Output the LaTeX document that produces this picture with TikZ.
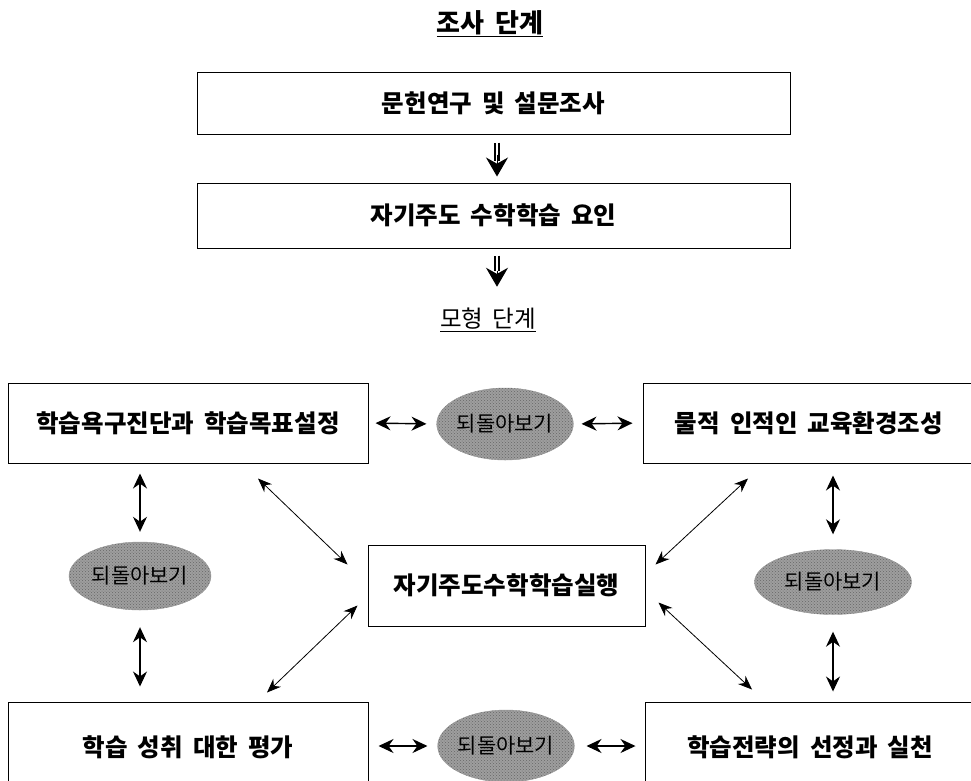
\documentclass[tikz,border=0pt]{standalone}
\usepackage{fontspec}
\setmainfont{Noto Sans CJK KR}[WordSpace=1.8]
\usetikzlibrary{shapes.geometric, arrows.meta, patterns, positioning}
\definecolor{speckle}{rgb}{0.62, 0.62, 0.62}

\begin{document}
\begin{tikzpicture}[>={Stealth[length=14pt,width=11pt]}, x=1pt, y=-1pt]
    \tikzstyle{stagebox}=[draw, line width=1pt, inner sep=0pt, font=\fontsize{24.5}{28}\selectfont\bfseries]
    \tikzstyle{lookback}=[ellipse, draw=gray!80, fill=speckle, inner sep=0pt, font=\fontsize{21}{24}\selectfont, postaction={pattern=crosshatch dots, pattern color=black!60}]
    \tikzstyle{flow}=[double, double distance=2.5pt, line width=1.6pt]
    \tikzstyle{flowhead}=[-{Stealth[length=19pt,width=22pt]}, line width=1pt]
    \tikzstyle{link}=[{Stealth[length=15pt,width=14pt]}-{Stealth[length=15pt,width=14pt]}, line width=1.4pt]
    \tikzstyle{diag}=[<->, line width=0.8pt]

    \useasboundingbox (0,0) rectangle (971,780);

    % Survey stage
    \node[font=\fontsize{26}{30}\selectfont\bfseries] (survey) at (490,24) {\underline{조사 단계}};
    \node[stagebox, minimum width=593pt, minimum height=62pt] (lit) at (493.5,103) {문헌연구 및 설문조사};
    \node[stagebox, minimum width=593pt, minimum height=65pt] (factor) at (493.5,215.5) {자기주도 수학학습 요인};
    \node[font=\fontsize{23.5}{27}\selectfont] (model) at (488,320) {\underline{모형 단계}};

    % Arrows between the survey boxes
    \draw[flow, shorten <=8pt, shorten >=22pt] ([xshift=3.5pt]lit.south) -- ([xshift=3.5pt]factor.north);
    \draw[flowhead, shorten <=20pt, shorten >=6pt] ([xshift=3.5pt]lit.south) -- ([xshift=3.5pt]factor.north);
    \draw[flow, shorten <=7pt, shorten >=34pt] ([xshift=3.5pt]factor.south) -- ([xshift=9pt]model.north);
    \draw[flowhead, shorten <=22pt, shorten >=18pt] ([xshift=3.5pt]factor.south) -- ([xshift=9pt]model.north);

    % Model stage: boxes
    \node[stagebox, minimum width=360pt, minimum height=80pt] (need) at (188,423) {학습욕구진단과 학습목표설정};
    \node[stagebox, minimum width=332pt, minimum height=80pt] (env) at (809,423) {물적 인적인 교육환경조성};
    \node[stagebox, minimum width=277pt, minimum height=81pt] (run) at (506.5,585.5) {자기주도수학학습실행};
    \node[stagebox, minimum width=360pt, minimum height=90pt] (eval) at (188,747) {학습 성취 대한 평가};
    \node[stagebox, minimum width=330pt, minimum height=90pt] (plan) at (810,747) {학습전략의 선정과 실천};

    % Model stage: looking back
    \node[lookback, minimum width=124pt, minimum height=72pt] (lbtop) at (505,424) {되돌아보기};
    \node[lookback, minimum width=142pt, minimum height=68pt] (lbleft) at (140,576) {되돌아보기};
    \node[lookback, minimum width=157pt, minimum height=65pt] (lbright) at (833,582) {되돌아보기};
    \node[lookback, minimum width=120pt, minimum height=72pt] (lbbot) at (506,746) {되돌아보기};

    % Horizontal links
    \draw[link, shorten <=7pt, shorten >=10pt] (need.east) -- (lbtop.west);
    \draw[link, shorten <=8pt, shorten >=10pt] (lbtop.east) -- (env.west);
    \draw[link, shorten <=10pt, shorten >=10pt] (eval.east |- lbbot.west) -- (lbbot.west);
    \draw[link, shorten <=12pt, shorten >=9pt] (lbbot.east) -- (plan.west |- lbbot.east);

    % Vertical links
    \draw[link, line width=1.1pt, shorten <=10pt, shorten >=10pt] (lbleft.north |- need.south) -- (lbleft.north);
    \draw[link, line width=1.1pt, shorten <=17pt, shorten >=15pt] (lbleft.south) -- (lbleft.south |- eval.north);
    \draw[link, line width=1.1pt, shorten <=12pt, shorten >=15pt] (lbright.north |- env.south) -- (lbright.north);
    \draw[link, line width=1.1pt, shorten <=17pt, shorten >=10pt] (lbright.south) -- (lbright.south |- plan.north);

    % Diagonal links to the centre
    \draw[diag] ([xshift=70pt,yshift=-15pt]need.south) -- ([xshift=-20pt,yshift=-20pt]run.north west);
    \draw[diag] ([xshift=-61pt,yshift=-15pt]env.south) -- ([xshift=10pt,yshift=-20pt]run.north east);
    \draw[diag] ([xshift=-10pt,yshift=21pt]run.south west) -- ([xshift=79pt,yshift=9pt]eval.north);
    \draw[diag] ([xshift=13pt,yshift=24pt]run.south east) -- ([xshift=-58pt,yshift=12pt]plan.north);
\end{tikzpicture}
\end{document}
